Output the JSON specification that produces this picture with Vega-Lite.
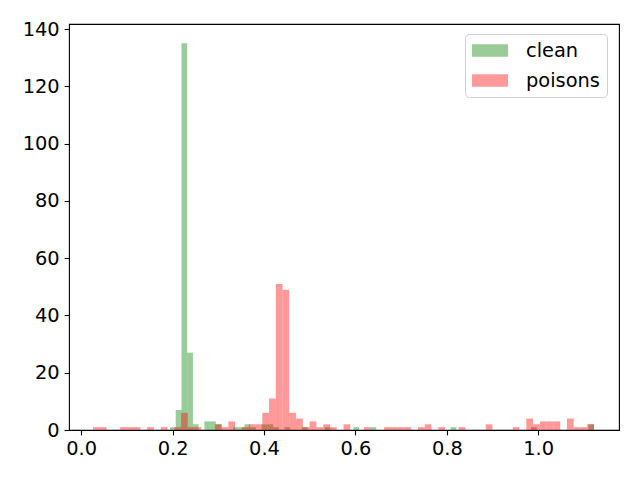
{
  "$schema": "https://vega.github.io/schema/vega-lite/v6.json",
  "width": 550,
  "height": 406,
  "autosize": {"type": "none"},
  "padding": {"left": 69, "top": 24, "right": 21, "bottom": 50},
  "config": {
    "view": {"stroke": "black", "strokeWidth": 1.1},
    "font": "DejaVu Sans"
  },
  "data": {
    "values": [
      {"series": "clean", "x0": 0.1943, "x1": 0.2068, "count": 1},
      {"series": "clean", "x0": 0.2068, "x1": 0.2194, "count": 7},
      {"series": "clean", "x0": 0.2194, "x1": 0.2319, "count": 135},
      {"series": "clean", "x0": 0.2319, "x1": 0.2445, "count": 27},
      {"series": "clean", "x0": 0.2445, "x1": 0.2570, "count": 2},
      {"series": "clean", "x0": 0.2695, "x1": 0.2821, "count": 3},
      {"series": "clean", "x0": 0.2821, "x1": 0.2946, "count": 3},
      {"series": "clean", "x0": 0.2946, "x1": 0.3071, "count": 2},
      {"series": "clean", "x0": 0.3322, "x1": 0.3447, "count": 1},
      {"series": "clean", "x0": 0.3447, "x1": 0.3573, "count": 1},
      {"series": "clean", "x0": 0.3573, "x1": 0.3698, "count": 2},
      {"series": "clean", "x0": 0.3698, "x1": 0.3824, "count": 1},
      {"series": "clean", "x0": 0.3949, "x1": 0.4074, "count": 2},
      {"series": "clean", "x0": 0.4074, "x1": 0.4200, "count": 2},
      {"series": "clean", "x0": 0.4200, "x1": 0.4325, "count": 1},
      {"series": "clean", "x0": 0.4451, "x1": 0.4576, "count": 1},
      {"series": "clean", "x0": 0.4827, "x1": 0.4953, "count": 1},
      {"series": "clean", "x0": 0.5328, "x1": 0.5453, "count": 1},
      {"series": "clean", "x0": 0.5955, "x1": 0.6080, "count": 1},
      {"series": "clean", "x0": 0.6331, "x1": 0.6457, "count": 1},
      {"series": "clean", "x0": 0.8087, "x1": 0.8212, "count": 1},
      {"series": "clean", "x0": 0.9842, "x1": 0.9968, "count": 1},
      {"series": "clean", "x0": 1.1096, "x1": 1.1221, "count": 2},
      {"series": "poisons", "x0": 0.0258, "x1": 0.0406, "count": 1},
      {"series": "poisons", "x0": 0.0406, "x1": 0.0554, "count": 1},
      {"series": "poisons", "x0": 0.0851, "x1": 0.0999, "count": 1},
      {"series": "poisons", "x0": 0.0999, "x1": 0.1147, "count": 1},
      {"series": "poisons", "x0": 0.1147, "x1": 0.1295, "count": 1},
      {"series": "poisons", "x0": 0.1443, "x1": 0.1591, "count": 1},
      {"series": "poisons", "x0": 0.1740, "x1": 0.1888, "count": 1},
      {"series": "poisons", "x0": 0.2036, "x1": 0.2184, "count": 1},
      {"series": "poisons", "x0": 0.2184, "x1": 0.2332, "count": 6},
      {"series": "poisons", "x0": 0.2332, "x1": 0.2480, "count": 1},
      {"series": "poisons", "x0": 0.2480, "x1": 0.2628, "count": 1},
      {"series": "poisons", "x0": 0.2925, "x1": 0.3073, "count": 2},
      {"series": "poisons", "x0": 0.3073, "x1": 0.3221, "count": 1},
      {"series": "poisons", "x0": 0.3221, "x1": 0.3369, "count": 3},
      {"series": "poisons", "x0": 0.3517, "x1": 0.3665, "count": 1},
      {"series": "poisons", "x0": 0.3665, "x1": 0.3814, "count": 2},
      {"series": "poisons", "x0": 0.3814, "x1": 0.3962, "count": 2},
      {"series": "poisons", "x0": 0.3962, "x1": 0.4110, "count": 6},
      {"series": "poisons", "x0": 0.4110, "x1": 0.4258, "count": 11},
      {"series": "poisons", "x0": 0.4258, "x1": 0.4406, "count": 51},
      {"series": "poisons", "x0": 0.4406, "x1": 0.4554, "count": 49},
      {"series": "poisons", "x0": 0.4554, "x1": 0.4702, "count": 6},
      {"series": "poisons", "x0": 0.4702, "x1": 0.4851, "count": 4},
      {"series": "poisons", "x0": 0.4851, "x1": 0.4999, "count": 1},
      {"series": "poisons", "x0": 0.4999, "x1": 0.5147, "count": 3},
      {"series": "poisons", "x0": 0.5147, "x1": 0.5295, "count": 1},
      {"series": "poisons", "x0": 0.5295, "x1": 0.5443, "count": 2},
      {"series": "poisons", "x0": 0.5443, "x1": 0.5591, "count": 1},
      {"series": "poisons", "x0": 0.5740, "x1": 0.5888, "count": 2},
      {"series": "poisons", "x0": 0.6184, "x1": 0.6332, "count": 1},
      {"series": "poisons", "x0": 0.6628, "x1": 0.6777, "count": 1},
      {"series": "poisons", "x0": 0.6777, "x1": 0.6925, "count": 1},
      {"series": "poisons", "x0": 0.6925, "x1": 0.7073, "count": 1},
      {"series": "poisons", "x0": 0.7073, "x1": 0.7221, "count": 1},
      {"series": "poisons", "x0": 0.7369, "x1": 0.7517, "count": 1},
      {"series": "poisons", "x0": 0.7517, "x1": 0.7665, "count": 2},
      {"series": "poisons", "x0": 0.7814, "x1": 0.7962, "count": 1},
      {"series": "poisons", "x0": 0.8258, "x1": 0.8406, "count": 1},
      {"series": "poisons", "x0": 0.8851, "x1": 0.8999, "count": 2},
      {"series": "poisons", "x0": 0.9443, "x1": 0.9591, "count": 1},
      {"series": "poisons", "x0": 0.9740, "x1": 0.9888, "count": 4},
      {"series": "poisons", "x0": 0.9888, "x1": 1.0036, "count": 2},
      {"series": "poisons", "x0": 1.0036, "x1": 1.0184, "count": 3},
      {"series": "poisons", "x0": 1.0184, "x1": 1.0332, "count": 3},
      {"series": "poisons", "x0": 1.0332, "x1": 1.0480, "count": 3},
      {"series": "poisons", "x0": 1.0629, "x1": 1.0777, "count": 4},
      {"series": "poisons", "x0": 1.0777, "x1": 1.0925, "count": 1},
      {"series": "poisons", "x0": 1.0925, "x1": 1.1073, "count": 1},
      {"series": "poisons", "x0": 1.1073, "x1": 1.1221, "count": 2}
    ]
  },
  "mark": {"type": "rect", "opacity": 0.4},
  "encoding": {
    "x": {
      "field": "x0",
      "type": "quantitative",
      "scale": {"domain": [-0.0267, 1.1768], "nice": false, "zero": false},
      "axis": {
        "title": null,
        "values": [0, 0.2, 0.4, 0.6, 0.8, 1.0],
        "format": ".1f",
        "grid": false,
        "domain": false,
        "tickSize": 4.9,
        "tickWidth": 1.1,
        "tickColor": "black",
        "labelFontSize": 19.4,
        "labelFont": "DejaVu Sans",
        "labelColor": "black",
        "labelPadding": 4.9,
        "labelFlush": false,
        "labelOverlap": false
      }
    },
    "x2": {"field": "x1"},
    "y": {
      "field": "count",
      "type": "quantitative",
      "stack": null,
      "scale": {"domain": [0, 141.75], "nice": false},
      "axis": {
        "title": null,
        "values": [0, 20, 40, 60, 80, 100, 120, 140],
        "grid": false,
        "domain": false,
        "tickSize": 4.9,
        "tickWidth": 1.1,
        "tickColor": "black",
        "labelFontSize": 19.4,
        "labelFont": "DejaVu Sans",
        "labelColor": "black",
        "labelPadding": 4.9,
        "labelFlush": false,
        "labelOverlap": false
      }
    },
    "y2": {"datum": 0},
    "color": {
      "field": "series",
      "type": "nominal",
      "scale": {"domain": ["clean", "poisons"], "range": ["#008000", "#ff0000"]},
      "legend": {
        "title": null,
        "orient": "none",
        "legendX": 396,
        "legendY": 10,
        "symbolType": "M-1,-0.35L1,-0.35L1,0.35L-1,0.35Z",
        "symbolSize": 1296,
        "symbolOpacity": 0.4,
        "symbolStrokeWidth": 0,
        "clipHeight": 19,
        "labelFontSize": 19.4,
        "labelFont": "DejaVu Sans",
        "labelColor": "black",
        "labelOffset": 18,
        "rowPadding": 10,
        "padding": 7,
        "strokeColor": "#d0d0d0",
        "fillColor": "white",
        "cornerRadius": 4
      }
    }
  }
}
